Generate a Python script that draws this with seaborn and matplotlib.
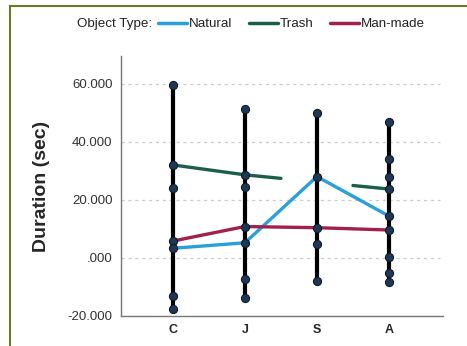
import numpy as np
import pandas as pd
import matplotlib
matplotlib.use("Agg")
import matplotlib.pyplot as plt
from matplotlib.lines import Line2D
from matplotlib.patches import Rectangle
import seaborn as sns

# data
groups = ["C", "J", "S", "A"]
natural = [3.3, 5.2, 28.0, 14.4]
manmade = [5.8, 10.8, 10.4, 9.6]
trash = [32.0, 28.6, np.nan, 23.7]   # no value at S, line broken there

# all dots along each group's vertical bar
dots_c = [59.6, 32.0, 24.0, 5.8, 3.3, -13.1, -17.5]
dots_j = [51.4, 28.6, 24.3, 10.8, 5.2, -7.4, -13.9]
dots_s = [49.9, 28.0, 10.4, 4.9, -7.9]
dots_a = [46.8, 33.9, 27.7, 23.7, 14.4, 9.6, 0.3, -5.2, -8.4]

colors = {"Natural": "#2a9fde", "Trash": "#1b5e4b", "Man-made": "#a3204b"}

sns.set_style("white")
plt.rcParams["font.family"] = ["Liberation Sans", "DejaVu Sans"]

fig = plt.figure(figsize=(4.67, 3.46), dpi=100)
ax = fig.add_axes([121 / 467, 1 - 316 / 346, 322 / 467, 260 / 346])

pos = np.arange(len(groups))

# vertical range bars
all_dots = [dots_c, dots_j, dots_s, dots_a]
ax.vlines(pos, [min(d) for d in all_dots], [max(d) for d in all_dots],
          color="black", linewidth=3, zorder=2)

# series lines
lines = pd.DataFrame({
    "pos": np.tile(pos, 2),
    "dur": natural + manmade,
    "type": ["Natural"] * 4 + ["Man-made"] * 4,
})
sns.lineplot(data=lines, x="pos", y="dur", hue="type", palette=colors,
             linewidth=2.4, legend=False, sort=False, estimator=None, ax=ax, zorder=3)

# trash: straight J->A line with the stretch over S left out
t = np.array(trash)
ok = ~np.isnan(t)
seg_x = [np.array([0, 1, 1.5]), np.array([2.5, 3])]
trash_df = pd.concat([
    pd.DataFrame({"pos": sx, "dur": np.interp(sx, pos[ok], t[ok]), "seg": i})
    for i, sx in enumerate(seg_x)
])
sns.lineplot(data=trash_df, x="pos", y="dur", units="seg", estimator=None,
             color=colors["Trash"], linewidth=2.4, sort=False, ax=ax, zorder=3)

# dots
dots = pd.DataFrame({
    "pos": np.concatenate([[p] * len(d) for p, d in zip(pos, all_dots)]),
    "dur": np.concatenate(all_dots),
})
sns.scatterplot(data=dots, x="pos", y="dur", s=34, color="#1c3856",
                edgecolor="#0d1a28", linewidth=0.8, ax=ax, zorder=4)

ax.set_xlim(-0.72, 3.75)
ax.set_ylim(-20, 69.5)
ax.set_yticks([-20, 0, 20, 40, 60])
ax.set_yticklabels(["-20.000", ".000", "20.000", "40.000", "60.000"], fontsize=9.5, color="#333333")
ax.set_xticks(pos)
ax.set_xticklabels(groups, fontsize=9, fontweight="bold")
ax.tick_params(length=0, pad=6)
ax.set_xlabel("")
ax.set_ylabel("Duration (sec)", fontsize=14, fontweight="bold", labelpad=13)

for y in [0, 20, 40, 60]:
    ax.axhline(y, xmin=0, xmax=0.99, color="#cccccc", linewidth=0.9,
               linestyle=(0, (2.5, 3)), zorder=1)

sns.despine(ax=ax)
for side in ["left", "bottom"]:
    ax.spines[side].set_color("#777777")
    ax.spines[side].set_linewidth(1.0)

# legend across the top
fig.text(77 / 467, 1 - 24 / 346, "Object Type:", fontsize=9.6, va="center", ha="left", color="#222222")
handles = [Line2D([], [], color=colors[k], linewidth=2.5) for k in ["Natural", "Trash", "Man-made"]]
leg = fig.legend(handles, ["Natural", "Trash", "Man-made"], loc="center left",
                 bbox_to_anchor=(158 / 467, 1 - 24 / 346), ncol=3, frameon=False,
                 fontsize=9.6, handlelength=2.2, handletextpad=0.15, columnspacing=1.2,
                 borderpad=0, borderaxespad=0)
for txt in leg.get_texts():
    txt.set_color("#222222")

# olive frame around the picture
fig.patches.append(Rectangle((9.5 / 467, -0.1), 1.2, 1.1 - 6.5 / 346,
                             transform=fig.transFigure, fill=False,
                             edgecolor="#6b7a1f", linewidth=1.5))

fig.savefig("out.png", dpi=100)
